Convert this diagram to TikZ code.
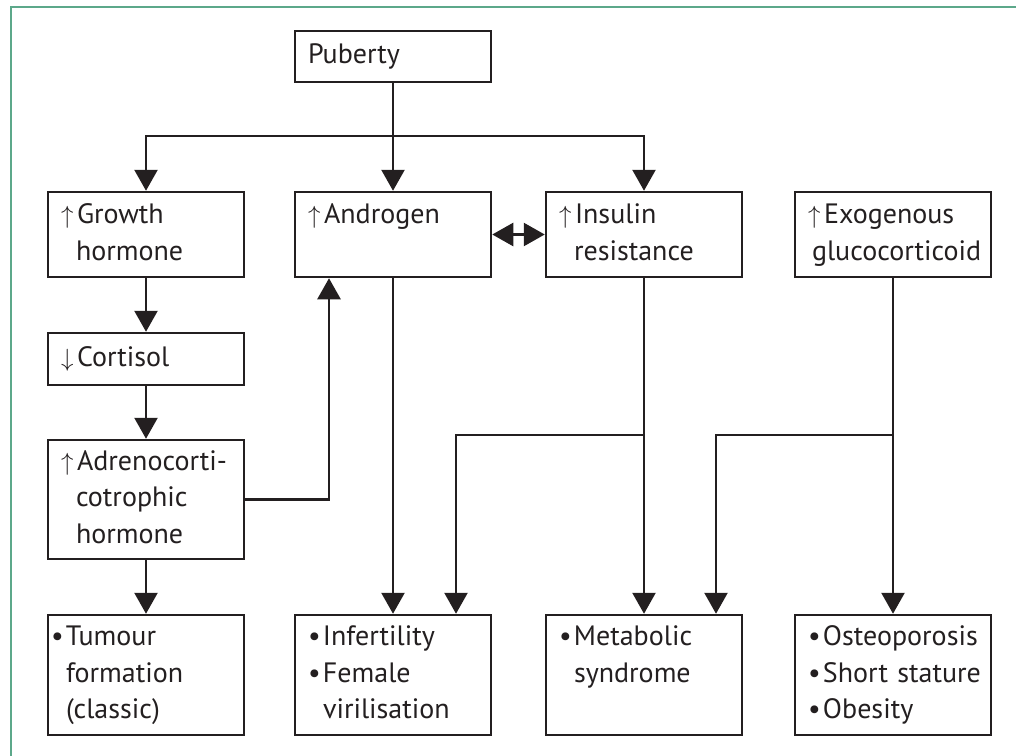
\documentclass[tikz,border=0pt]{standalone}
\usepackage{fontspec}
\setmainfont{PT Sans}
\usetikzlibrary{positioning, arrows.meta}
\definecolor{framegreen}{RGB}{92,168,138}
\definecolor{ink}{RGB}{35,31,32}
\newcommand{\upmark}{\makebox[16pt][l]{$\uparrow$}}
\newcommand{\downmark}{\makebox[16pt][l]{$\downarrow$}}
\newcommand{\bul}{\makebox[15pt][l]{\textbullet}}
\newcommand{\hang}{\hspace*{15pt}}

\begin{document}
\begin{tikzpicture}
    [
        x=1pt, y=-1pt,
        box/.style={draw=ink, line width=2.5pt, minimum width=196pt, text width=170pt, inner xsep=13pt, inner ysep=0pt, align=left, text=ink, font=\fontsize{28}{36.5}\selectfont, execute at begin node=\strut, execute at end node=\strut},
        arr/.style={draw=ink, line width=2.5pt, -{Triangle[width=23pt, length=21pt]}},
        dblarr/.style={draw=ink, line width=2.5pt, {Triangle[width=23pt, length=21pt]}-{Triangle[width=23pt, length=21pt]}},
    ]

  \useasboundingbox (0,0) rectangle (1016,755);
  \draw[framegreen, line width=2pt] (11,775) |- (1030,6.5);

  \node[box, minimum height=51pt] (pub) at (393,56.5) {Puberty};
  \node[box, minimum height=85pt] (gh) at (146,234.5) {\upmark Growth\\\hang hormone};
  \node[box, minimum height=85pt] (andr) at (393,234.5) {\upmark Androgen\\};
  \node[box, minimum height=85pt] (ins) at (644,234.5) {\upmark Insulin\\\hang resistance};
  \node[box, minimum height=85pt] (exo) at (893,234.5) {\upmark Exogenous\\\mbox{\hspace*{4pt}glucocorticoid}};
  \node[box, minimum height=52pt] (cort) at (146,359) {\downmark Cortisol};
  \node[box, minimum height=119pt] (acth) at (146,499.5) {\upmark Adrenocorti-\\\hang cotrophic\\\hang hormone};
  \node[box, minimum height=120pt, inner xsep=3pt, text width=190pt] (tum) at (146,675) {\bul Tumour\\\hang formation\\\hang (classic)};
  \node[box, minimum height=120pt] (inf) at (393,675) {\bul Infertility\\\bul Female\\\hang virilisation};
  \node[box, minimum height=120pt] (met) at (644,675) {\bul Metabolic\\\hang syndrome\\};
  \node[box, minimum height=120pt] (ost) at (893,675) {\bul Osteoporosis\\\mbox{\bul Short stature}\\\bul Obesity};

  \coordinate (split) at (393,136);
  \coordinate (insb) at (644,435);
  \coordinate (exob) at (893,435);

  \draw[arr] (pub) -- (andr);
  \draw[arr] (split) -| (gh);
  \draw[arr] (split) -| (ins);
  \draw[arr] (gh) -- (cort);
  \draw[arr] (cort) -- (acth);
  \draw[arr] (acth) -- (tum);
  \draw[arr] (acth.east) -| ([xshift=-64pt]andr.south);
  \draw[dblarr] (andr) -- (ins);
  \draw[arr] (andr) -- (inf);
  \draw[arr] (ins) -- (met);
  \draw[arr] (insb) -| ([xshift=63pt]inf.north);
  \draw[arr] (exo) -- (ost);
  \draw[arr] (exob) -| ([xshift=72pt]met.north);
\end{tikzpicture}
\end{document}
